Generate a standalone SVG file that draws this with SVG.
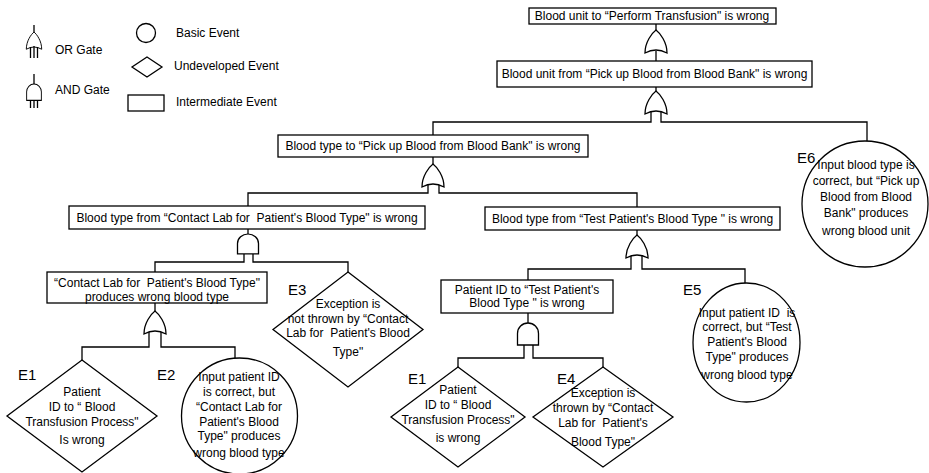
<svg xmlns="http://www.w3.org/2000/svg" xmlns:xlink="http://www.w3.org/1999/xlink" width="929" height="473" viewBox="0 0 929 473">
<style>
.s{fill:#fff;stroke:#000;stroke-width:1.3}
.c{fill:none;stroke:#000;stroke-width:1.3}
.t{font-family:"Liberation Sans",Arial,sans-serif;font-size:12px;fill:#000;text-anchor:middle}
.l{font-family:"Liberation Sans",Arial,sans-serif;font-size:12px;fill:#000}
.e{font-family:"Liberation Sans",Arial,sans-serif;font-size:15px;fill:#000}
</style>
<defs>
<path id="or" d="M0,0 C4,3 11,12 11,23 Q0,17 -11,23 C-11,12 -4,3 0,0 Z"/>
<path id="and" d="M-10.5,21 V10 A10.5,10 0 0 1 10.5,10 V21 Z"/>
</defs>
<rect width="929" height="473" fill="#fff"/>

<g id="legend">
<line class="c" x1="34" y1="25" x2="34" y2="32"/>
<use href="#or" class="s" transform="translate(34,32) scale(0.7,0.75)"/>
<path class="c" d="M30.5,47 V58 M34,46 V58 M37.5,47 V58"/>
<text class="l" x="55" y="54">OR Gate</text>
<line class="c" x1="34" y1="74" x2="34" y2="84"/>
<use href="#and" class="s" transform="translate(34,84) scale(0.7,0.78)"/>
<path class="c" d="M30.5,100 V108 M34,100 V108 M37.5,100 V108"/>
<text class="l" x="55" y="94">AND Gate</text>
<circle class="s" cx="146" cy="33" r="9.5"/>
<text class="l" x="176" y="37">Basic Event</text>
<polygon class="s" points="147,57 162,67 147,77 132,67"/>
<text class="l" x="174" y="70">Undeveloped Event</text>
<rect class="s" x="128" y="95" width="36" height="16"/>
<text class="l" x="176" y="106">Intermediate Event</text>
</g>

<g id="connectors">
<path class="c" d="M656,24 V31"/>
<path class="c" d="M656,51 V61"/>
<path class="c" d="M656,87 V92"/>
<path class="c" d="M651,112 V122 H433 V135"/>
<path class="c" d="M661,112 V122 H867 V141"/>
<path class="c" d="M433,157 V165"/>
<path class="c" d="M428,185 V193 H248 V206"/>
<path class="c" d="M439,185 V193 H637 V207"/>
<path class="c" d="M248,229 V235"/>
<path class="c" d="M244,254 V262 H155 V272"/>
<path class="c" d="M253,254 V262 H348 V272"/>
<path class="c" d="M155,303 V312"/>
<path class="c" d="M149,332 V347 H82 V360"/>
<path class="c" d="M161,332 V347 H235 V358"/>
<path class="c" d="M637,230 V236"/>
<path class="c" d="M631,256 V269 H528 V280"/>
<path class="c" d="M642,256 V269 H745 V283"/>
<path class="c" d="M528,313 V323"/>
<path class="c" d="M524,344 V358 H458 V367"/>
<path class="c" d="M533,344 V358 H603 V367"/>
</g>

<g id="gates">
<use id="g1" href="#or" class="s" transform="translate(656,30)"/>
<use id="g2" href="#or" class="s" transform="translate(656,91)"/>
<use id="g3" href="#or" class="s" transform="translate(433,164)"/>
<use id="g4" href="#or" class="s" transform="translate(637,235)"/>
<use id="g5" href="#or" class="s" transform="translate(155,311)"/>
<use id="a1" href="#and" class="s" transform="translate(248,234) scale(1,0.95)"/>
<use id="a2" href="#and" class="s" transform="translate(528,323) scale(1,1.05)"/>
</g>

<g id="top">
<rect class="s" x="529" y="8" width="247" height="16"/>
<text class="t" x="652" y="20">Blood unit to “Perform Transfusion" is wrong</text>
</g>
<g id="box2">
<rect class="s" x="497" y="61" width="315" height="26"/>
<text class="t" x="654.5" y="78">Blood unit from “Pick up Blood from Blood Bank" is wrong</text>
</g>
<g id="box3">
<rect class="s" x="278" y="135" width="310" height="22"/>
<text class="t" x="433" y="150">Blood type to “Pick up Blood from Blood Bank" is wrong</text>
</g>
<g id="box4">
<rect class="s" x="69" y="206" width="356" height="23"/>
<text class="t" x="247" y="222" xml:space="preserve">Blood type from “Contact Lab for  Patient's Blood Type" is wrong</text>
</g>
<g id="box5">
<rect class="s" x="485" y="207" width="295" height="23"/>
<text class="t" x="632.5" y="223">Blood type from “Test Patient's Blood Type " is wrong</text>
</g>
<g id="box6">
<rect class="s" x="441" y="280" width="172" height="33"/>
<text class="t" x="527" y="294">Patient ID to “Test Patient's</text>
<text class="t" x="527" y="307">Blood Type " is wrong</text>
</g>
<g id="box7">
<rect class="s" x="47" y="272" width="220" height="31"/>
<text class="t" x="157" y="287" xml:space="preserve">“Contact Lab for  Patient's Blood Type"</text>
<text class="t" x="157" y="301">produces wrong blood type</text>
</g>

<g id="E6">
<circle class="s" cx="865" cy="204" r="63"/>
<text class="e" x="797" y="163">E6</text>
<text class="t" x="866" y="169">Input blood type is</text>
<text class="t" x="866" y="185">correct, but “Pick up</text>
<text class="t" x="866" y="201">Blood from Blood</text>
<text class="t" x="866" y="217">Bank" produces</text>
<text class="t" x="866" y="235">wrong blood unit</text>
</g>
<g id="E5">
<ellipse class="s" cx="746.5" cy="342.5" rx="53.5" ry="59.5"/>
<text class="e" x="683" y="295">E5</text>
<text class="t" x="747" y="317" xml:space="preserve">Input patient ID  is</text>
<text class="t" x="747" y="331">correct, but “Test</text>
<text class="t" x="747" y="346">Patient's Blood</text>
<text class="t" x="747" y="361">Type" produces</text>
<text class="t" x="747" y="379">wrong blood type</text>
</g>
<g id="E3">
<polygon class="s" points="348,272 423,329.5 348,387 273,329.5"/>
<text class="e" x="288" y="295">E3</text>
<text class="t" x="348" y="308">Exception is</text>
<text class="t" x="348" y="323">not thrown by “Contact</text>
<text class="t" x="348" y="337" xml:space="preserve">Lab for  Patient's Blood</text>
<text class="t" x="348" y="356">Type"</text>
</g>
<g id="E1a">
<polygon class="s" points="82,360 157,416 82,472 7,416"/>
<text class="e" x="18" y="380">E1</text>
<text class="t" x="82" y="396">Patient</text>
<text class="t" x="82" y="411">ID to “ Blood</text>
<text class="t" x="82" y="426">Transfusion Process"</text>
<text class="t" x="82" y="444">Is wrong</text>
</g>
<g id="E2">
<circle class="s" cx="239.5" cy="416" r="58"/>
<text class="e" x="157" y="380">E2</text>
<text class="t" x="239" y="381">Input patient ID</text>
<text class="t" x="239" y="396">is correct, but</text>
<text class="t" x="239" y="411">“Contact Lab for</text>
<text class="t" x="239" y="426">Patient's Blood</text>
<text class="t" x="239" y="440">Type" produces</text>
<text class="t" x="239" y="457">wrong blood type</text>
</g>
<g id="E1b">
<polygon class="s" points="458,367 525,417 458,467 391,417"/>
<text class="e" x="408" y="384">E1</text>
<text class="t" x="458" y="394">Patient</text>
<text class="t" x="458" y="409">ID to “ Blood</text>
<text class="t" x="458" y="424">Transfusion Process"</text>
<text class="t" x="458" y="442">is wrong</text>
</g>
<g id="E4">
<polygon class="s" points="603,367 673,417 603,467 533,417"/>
<text class="e" x="557" y="384">E4</text>
<text class="t" x="603" y="397">Exception is</text>
<text class="t" x="603" y="412">thrown by “Contact</text>
<text class="t" x="603" y="427" xml:space="preserve">Lab for  Patient's</text>
<text class="t" x="603" y="446">Blood Type"</text>
</g>
</svg>
